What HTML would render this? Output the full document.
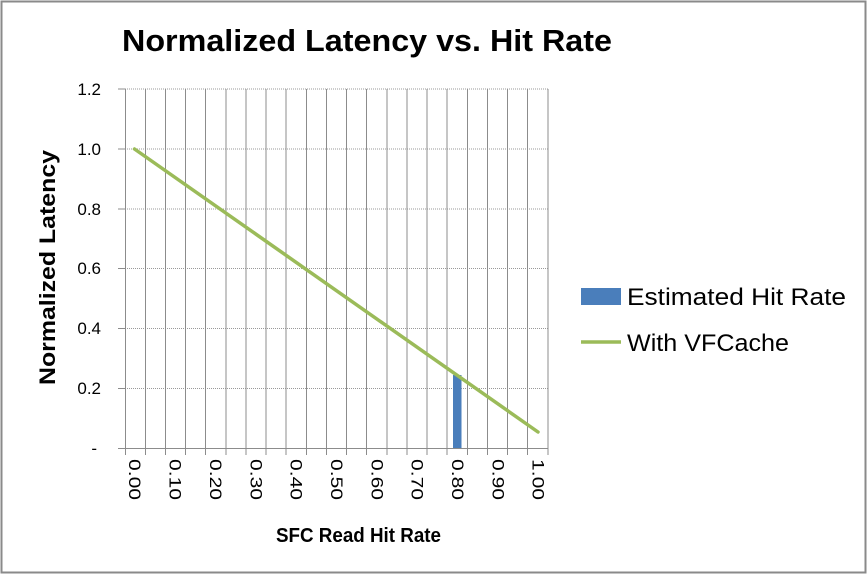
<!DOCTYPE html>
<html><head><style>
html,body{margin:0;padding:0;background:#fff}
svg{display:block}
text{font-family:"Liberation Sans",sans-serif}
</style></head><body>
<svg width="867" height="574" viewBox="0 0 867 574" xmlns="http://www.w3.org/2000/svg">
<rect x="1.5" y="1.5" width="864" height="571" fill="#fff" stroke="#8a8a8a" stroke-width="2"/>
<text x="122" y="51" font-size="31" font-weight="bold" fill="#000" textLength="490" lengthAdjust="spacingAndGlyphs">Normalized Latency vs. Hit Rate</text>
<g stroke="#999" stroke-width="1" stroke-dasharray="1,1">
<line x1="125" y1="89" x2="548" y2="89"/>
<line x1="125" y1="149" x2="548" y2="149"/>
<line x1="125" y1="209" x2="548" y2="209"/>
<line x1="125" y1="268.5" x2="548" y2="268.5"/>
<line x1="125" y1="328.5" x2="548" y2="328.5"/>
<line x1="125" y1="388.5" x2="548" y2="388.5"/>
</g>
<g stroke="#8c8c8c" stroke-width="1">
<line x1="145.5" y1="89" x2="145.5" y2="455"/>
<line x1="165.5" y1="89" x2="165.5" y2="455"/>
<line x1="185.5" y1="89" x2="185.5" y2="455"/>
<line x1="205.5" y1="89" x2="205.5" y2="455"/>
<line x1="226" y1="89" x2="226" y2="455"/>
<line x1="246" y1="89" x2="246" y2="455"/>
<line x1="266" y1="89" x2="266" y2="455"/>
<line x1="286" y1="89" x2="286" y2="455"/>
<line x1="306.5" y1="89" x2="306.5" y2="455"/>
<line x1="326.5" y1="89" x2="326.5" y2="455"/>
<line x1="346.5" y1="89" x2="346.5" y2="455"/>
<line x1="366.5" y1="89" x2="366.5" y2="455"/>
<line x1="387" y1="89" x2="387" y2="455"/>
<line x1="407" y1="89" x2="407" y2="455"/>
<line x1="427" y1="89" x2="427" y2="455"/>
<line x1="447" y1="89" x2="447" y2="455"/>
<line x1="467.5" y1="89" x2="467.5" y2="455"/>
<line x1="487.5" y1="89" x2="487.5" y2="455"/>
<line x1="507.5" y1="89" x2="507.5" y2="455"/>
<line x1="527.5" y1="89" x2="527.5" y2="455"/>
<line x1="548" y1="89" x2="548" y2="455"/>
<line x1="125.5" y1="89" x2="125.5" y2="455"/>
<line x1="118" y1="448.5" x2="548" y2="448.5"/>
<line x1="118" y1="89" x2="125" y2="89"/>
<line x1="118" y1="149" x2="125" y2="149"/>
<line x1="118" y1="209" x2="125" y2="209"/>
<line x1="118" y1="268.5" x2="125" y2="268.5"/>
<line x1="118" y1="328.5" x2="125" y2="328.5"/>
<line x1="118" y1="388.5" x2="125" y2="388.5"/>
</g>
<g font-size="17" fill="#000" text-anchor="end">
<text x="101" y="95">1.2</text>
<text x="101" y="155">1.0</text>
<text x="101" y="215">0.8</text>
<text x="101" y="274">0.6</text>
<text x="101" y="334">0.4</text>
<text x="101" y="394">0.2</text>
<text x="97" y="454">-</text>
</g>
<g font-size="17" fill="#000">
<text transform="translate(129,459) rotate(90)" textLength="41" lengthAdjust="spacingAndGlyphs">0.00</text>
<text transform="translate(169.5,459) rotate(90)" textLength="41" lengthAdjust="spacingAndGlyphs">0.10</text>
<text transform="translate(210,459) rotate(90)" textLength="41" lengthAdjust="spacingAndGlyphs">0.20</text>
<text transform="translate(250.5,459) rotate(90)" textLength="41" lengthAdjust="spacingAndGlyphs">0.30</text>
<text transform="translate(290.5,459) rotate(90)" textLength="41" lengthAdjust="spacingAndGlyphs">0.40</text>
<text transform="translate(331,459) rotate(90)" textLength="41" lengthAdjust="spacingAndGlyphs">0.50</text>
<text transform="translate(371.5,459) rotate(90)" textLength="41" lengthAdjust="spacingAndGlyphs">0.60</text>
<text transform="translate(411.5,459) rotate(90)" textLength="41" lengthAdjust="spacingAndGlyphs">0.70</text>
<text transform="translate(452,459) rotate(90)" textLength="41" lengthAdjust="spacingAndGlyphs">0.80</text>
<text transform="translate(492.5,459) rotate(90)" textLength="41" lengthAdjust="spacingAndGlyphs">0.90</text>
<text transform="translate(532.5,459) rotate(90)" textLength="41" lengthAdjust="spacingAndGlyphs">1.00</text>
</g>
<text x="276" y="542" font-size="20" font-weight="bold" textLength="165" lengthAdjust="spacingAndGlyphs">SFC Read Hit Rate</text>
<text transform="translate(55,385) rotate(-90)" font-size="22" font-weight="bold" textLength="235" lengthAdjust="spacingAndGlyphs">Normalized Latency</text>
<rect x="453" y="375" width="8.5" height="73" fill="#4a7ebb"/>
<line x1="134.5" y1="149" x2="538" y2="432" stroke="#9bbb59" stroke-width="3.5" stroke-linecap="round"/>
<rect x="581" y="288" width="40" height="17" fill="#4a7ebb"/>
<text x="627" y="305" font-size="24" textLength="219" lengthAdjust="spacingAndGlyphs">Estimated Hit Rate</text>
<line x1="581" y1="342" x2="621" y2="342" stroke="#9bbb59" stroke-width="3.5"/>
<text x="627" y="351" font-size="24" textLength="162" lengthAdjust="spacingAndGlyphs">With VFCache</text>
</svg>
</body></html>
